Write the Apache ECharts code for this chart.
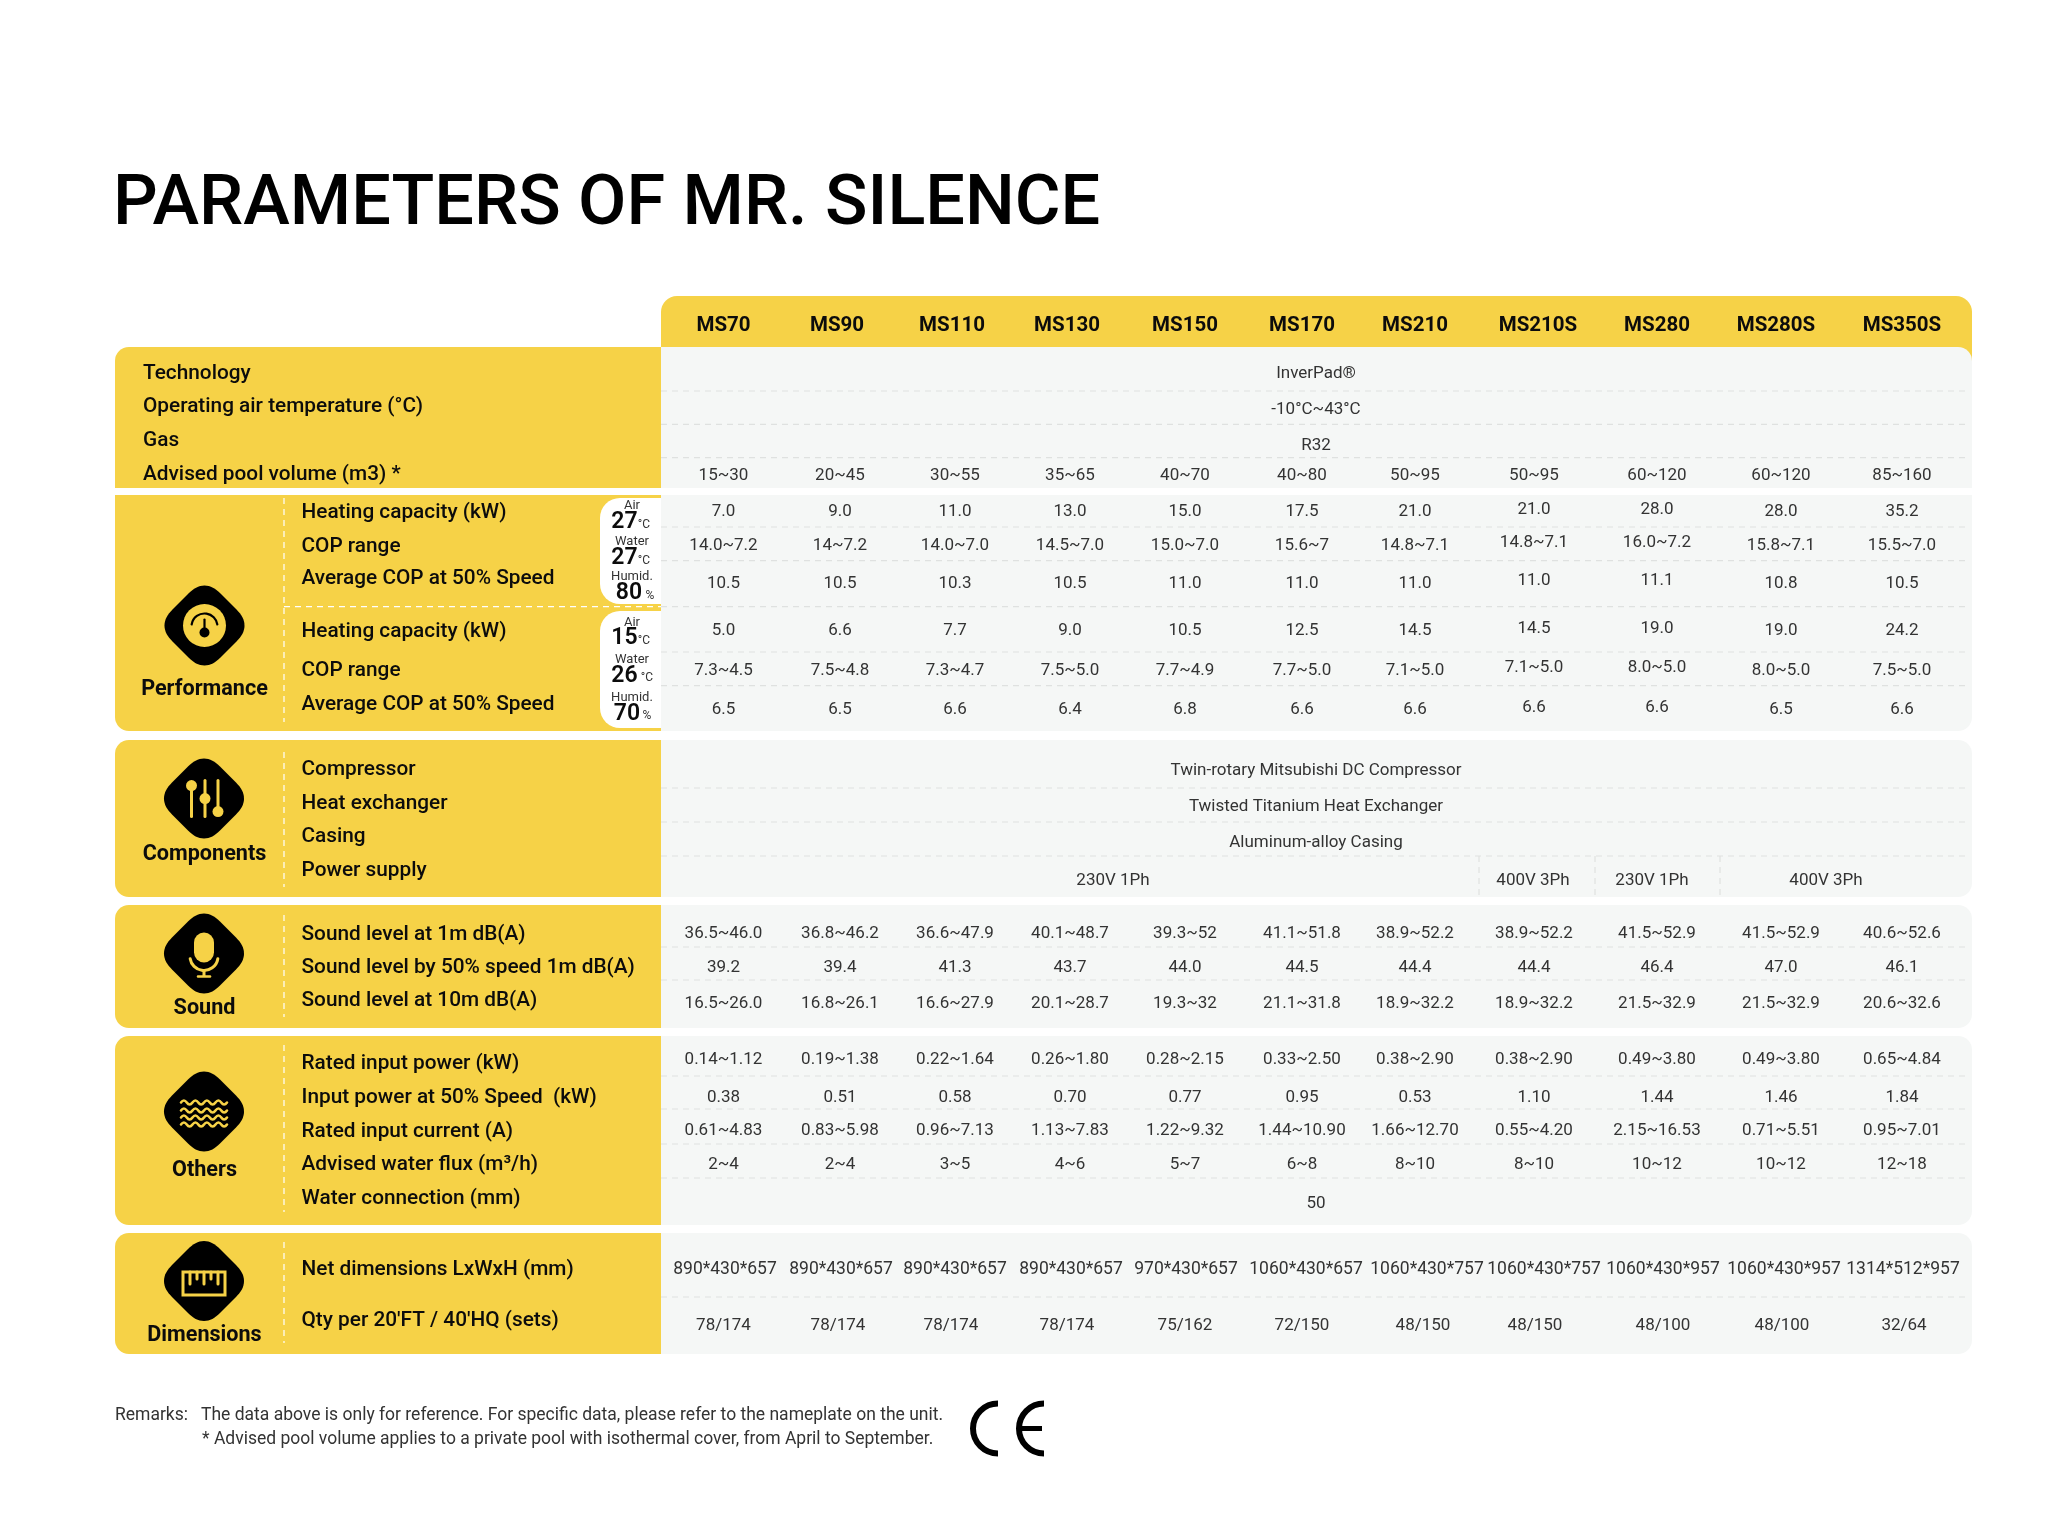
<!DOCTYPE html>
<html><head><meta charset="utf-8">
<style>html,body{margin:0;padding:0;background:#fff}#c{width:2048px;height:1524px}</style>
<script src="https://cdn.jsdelivr.net/npm/echarts@6/dist/echarts.min.js"></script>
</head><body><div id="c"></div>
<script>
// ---------- data ----------
const models = ['MS70','MS90','MS110','MS130','MS150','MS170','MS210','MS210S','MS280','MS280S','MS350S'];
const technology = 'InverPad®';
const airTemperature = '-10°C~43°C';
const gas = 'R32';
const poolVolume = ['15~30','20~45','30~55','35~65','40~70','40~80','50~95','50~95','60~120','60~120','85~160'];
const heatingHigh = ['7.0','9.0','11.0','13.0','15.0','17.5','21.0','21.0','28.0','28.0','35.2'];
const copHigh = ['14.0~7.2','14~7.2','14.0~7.0','14.5~7.0','15.0~7.0','15.6~7','14.8~7.1','14.8~7.1','16.0~7.2','15.8~7.1','15.5~7.0'];
const avgCopHigh = ['10.5','10.5','10.3','10.5','11.0','11.0','11.0','11.0','11.1','10.8','10.5'];
const heatingLow = ['5.0','6.6','7.7','9.0','10.5','12.5','14.5','14.5','19.0','19.0','24.2'];
const copLow = ['7.3~4.5','7.5~4.8','7.3~4.7','7.5~5.0','7.7~4.9','7.7~5.0','7.1~5.0','7.1~5.0','8.0~5.0','8.0~5.0','7.5~5.0'];
const avgCopLow = ['6.5','6.5','6.6','6.4','6.8','6.6','6.6','6.6','6.6','6.5','6.6'];
const compressor = 'Twin-rotary Mitsubishi DC Compressor';
const exchanger = 'Twisted Titanium Heat Exchanger';
const casing = 'Aluminum-alloy Casing';
const powerSupply = ['230V 1Ph','400V 3Ph','230V 1Ph','400V 3Ph'];
const sound1m = ['36.5~46.0','36.8~46.2','36.6~47.9','40.1~48.7','39.3~52','41.1~51.8','38.9~52.2','38.9~52.2','41.5~52.9','41.5~52.9','40.6~52.6'];
const sound50 = ['39.2','39.4','41.3','43.7','44.0','44.5','44.4','44.4','46.4','47.0','46.1'];
const sound10m = ['16.5~26.0','16.8~26.1','16.6~27.9','20.1~28.7','19.3~32','21.1~31.8','18.9~32.2','18.9~32.2','21.5~32.9','21.5~32.9','20.6~32.6'];
const ratedPower = ['0.14~1.12','0.19~1.38','0.22~1.64','0.26~1.80','0.28~2.15','0.33~2.50','0.38~2.90','0.38~2.90','0.49~3.80','0.49~3.80','0.65~4.84'];
const power50 = ['0.38','0.51','0.58','0.70','0.77','0.95','0.53','1.10','1.44','1.46','1.84'];
const ratedCurrent = ['0.61~4.83','0.83~5.98','0.96~7.13','1.13~7.83','1.22~9.32','1.44~10.90','1.66~12.70','0.55~4.20','2.15~16.53','0.71~5.51','0.95~7.01'];
const waterFlux = ['2~4','2~4','3~5','4~6','5~7','6~8','8~10','8~10','10~12','10~12','12~18'];
const waterConnection = '50';
const netDimensions = ['890*430*657','890*430*657','890*430*657','890*430*657','970*430*657','1060*430*657','1060*430*757','1060*430*757','1060*430*957','1060*430*957','1314*512*957'];
const containerQty = ['78/174','78/174','78/174','78/174','75/162','72/150','48/150','48/150','48/100','48/100','32/64'];
const title = 'PARAMETERS OF MR. SILENCE';
const remarks = ['Remarks:','The data above is only for reference. For specific data, please refer to the nameplate on the unit.','* Advised pool volume applies to a private pool with isothermal cover, from April to September.'];

// ---------- layout (table geometry only) ----------
const YEL='#F6D247', GREY='#F5F7F6', DASH='#DFE1E0', INK='#0c0c0c', CELL='#333333';
const FONT='Roboto, "Noto Sans", sans-serif';
const SPLIT=661, LEFT=115, RIGHT=1972, GUTTER=284, LABELX=301.5, SPANX=1316;
const CELL_SIZE=17, DIM_SIZE=17.5;
const textDy=y=>y>=1240?3.6:(y>=900?2.6:1.4);
const headerX=[723.5,837,952,1067,1185,1302,1415,1538,1657,1776,1902];
const cellX=[723.5,840,955,1070,1185,1302,1415,1534,1657,1781,1902];
const dimX=[725,841,955,1071,1186,1306,1427,1544,1663,1784,1903];
const qtyX=[723.5,838,951,1067,1185,1302,1423,1535,1663,1782,1904];
const sections=[ // vertical extents and corner radii [tl,tr,br,bl]
 [347,488,[14,14,0,0]],[495,731,[0,0,14,14]],[740,897,[14,14,14,14]],
 [905,1028,[14,14,14,14]],[1036,1225,[14,14,14,14]],[1233,1354,[14,14,14,14]]];
const dashY=[391,424.3,457.7,527,560.7,606.7,652,685.7,788,822,856,947,980,1076,1109,1144,1178,1297];
const gutters=[[498,722],[752,887],[915,1017],[1045,1212],[1242,1343]];
const conditionBoxes=[[498,604],[611,728]];
const powerDividers=[1479,1595,1720];
const powerX=[1113,1533,1652,1826], powerY=879;

// ---------- build marks ----------
const rects=[], lines=[], texts=[];
function T(x,y,text,size,o){texts.push(Object.assign({x,y:y+textDy(y),text,size,weight:400,color:CELL,align:'center'},o||{}));}
rects.push({x0:661,y0:296,x1:RIGHT,y1:370,c:YEL,r:[16,16,0,0]});
sections.forEach(s=>{
  rects.push({x0:SPLIT,y0:s[0],x1:RIGHT,y1:s[1],c:GREY,r:[0,s[2][1],s[2][2],0]});
  rects.push({x0:LEFT,y0:s[0],x1:SPLIT,y1:s[1],c:YEL,r:[s[2][0],0,0,s[2][3]]});
});
conditionBoxes.forEach(b=>rects.push({x0:600,y0:b[0],x1:SPLIT,y1:b[1],c:'#ffffff',r:[20,0,0,20]}));
dashY.forEach(y=>lines.push({x0:SPLIT,y0:y,x1:1969,y1:y,c:DASH}));
gutters.forEach(g=>lines.push({x0:GUTTER,y0:g[0],x1:GUTTER,y1:g[1],c:'#FFFFFF'}));
lines.push({x0:GUTTER,y0:606.7,x1:SPLIT,y1:606.7,c:'#FFFFFF'});
powerDividers.forEach(x=>lines.push({x0:x,y0:856,x1:x,y1:897,c:DASH}));
T(113,205.5,title,70.2,{align:'left',weight:500,color:'#000'});
models.forEach((m,i)=>T(headerX[i],324.5,m,20.5,{weight:700,color:INK}));
const L=(y,t,x)=>T(x||LABELX,y,t,20.8,{align:'left',color:INK,weight:500});
[[372,'Technology'],[405.7,'Operating air temperature (°C)'],[439,'Gas'],[473,'Advised pool volume (m3) *']].forEach(a=>L(a[0],a[1],143));
[[511.7,'Heating capacity (kW)'],[545,'COP range'],[577.7,'Average COP at 50% Speed'],[630,'Heating capacity (kW)'],[669,'COP range'],[703,'Average COP at 50% Speed'],
 [768.5,'Compressor'],[802,'Heat exchanger'],[835.7,'Casing'],[869,'Power supply'],
 [932,'Sound level at 1m dB(A)'],[965,'Sound level by 50% speed 1m dB(A)'],[998,'Sound level at 10m dB(A)'],
 [1061.7,'Rated input power (kW)'],[1095,'Input power at 50% Speed  (kW)'],[1129,'Rated input current (A)'],[1162,'Advised water flux (m³/h)'],[1196,'Water connection (mm)'],
 [1266.5,'Net dimensions LxWxH (mm)'],[1317,"Qty per 20'FT / 40'HQ (sets)"]].forEach(a=>L(a[0],a[1]));
[[688,'Performance'],[853,'Components'],[1005.5,'Sound'],[1168,'Others'],[1331.6,'Dimensions']].forEach(a=>T(204.5,a[0],a[1],21.6,{weight:700,color:INK}));
[[372,technology],[408,airTemperature],[444,gas],[769.3,compressor],[805,exchanger],[841,casing],[1201,waterConnection]].forEach(a=>T(SPANX,a[0],a[1],CELL_SIZE));
powerSupply.forEach((p,i)=>T(powerX[i],powerY,p,CELL_SIZE));
function row(y,vals,xs,shift,size){vals.forEach((v,i)=>T(xs[i],y-((shift&&(i===7||i===8))?shift:0),v,size||CELL_SIZE));}
row(474.7,poolVolume,cellX);
row(510.3,heatingHigh,cellX,2); row(544.3,copHigh,cellX,2.5); row(582.3,avgCopHigh,cellX,3);
row(629,heatingLow,cellX,2); row(669,copLow,cellX,2.5); row(708,avgCopLow,cellX,2);
row(931.4,sound1m,cellX); row(965,sound50,cellX); row(1001,sound10m,cellX);
row(1057.6,ratedPower,cellX); row(1095,power50,cellX); row(1128,ratedCurrent,cellX); row(1162,waterFlux,cellX);
row(1266.5,netDimensions,dimX,0,DIM_SIZE); row(1322,containerQty,qtyX);
function cond(a){a.forEach(v=>T(v[0],v[1],v[2],v[3],{weight:v[4]||400,color:v[4]?INK:'#333'}));}
cond([[632,504,'Air',13],[624.5,521,'27',23,600],[644,523.5,'°C',12],[632,540,'Water',13],[624.5,557,'27',23,600],[644,559.5,'°C',12],[632,575,'Humid.',13],[629,592,'80',23,600],[650,594.5,'%',12],
      [632,621,'Air',13],[624.5,637,'15',23,600],[644,639.5,'°C',12],[632,658,'Water',13],[624.5,675,'26',23,600],[647,676.5,'°C',12],[632,696,'Humid.',13],[627,713,'70',23,600],[647,714.5,'%',12]]);
T(115,1412,remarks[0],17.5,{align:'left'}); T(201,1412,remarks[1],17.5,{align:'left'}); T(202,1436,remarks[2],17.5,{align:'left'});

const icons=[[204.5,625.5,'gauge'],[204,798.6,'sliders'],[204,953.5,'mic'],[204,1111.5,'waves'],[204,1281,'ruler']];
const DIAMOND='M40 0C46 0 51 3 56 8L72 24C77 29 80 34 80 40C80 46 77 51 72 56L56 72C51 77 46 80 40 80C34 80 29 77 24 72L8 56C3 51 0 46 0 40C0 34 3 29 8 24L24 8C29 3 34 0 40 0Z';
const Y={fill:YEL}, SY=w=>({stroke:YEL,lineWidth:w,fill:'none',lineCap:'round'}), SK=w=>({stroke:'#000',lineWidth:w,fill:'none',lineCap:'round'});
const ln=(x1,y1,x2,y2,style)=>({type:'line',shape:{x1,y1,x2,y2},style});
const circ=(cx,cy,r,style)=>({type:'circle',shape:{cx,cy,r},style});
function wave(y){let d='M-23 '+y;for(let i=0;i<4;i++){const s=-23+i*11.5;d+=' Q'+(s+2.9)+' '+(y-4)+' '+(s+5.75)+' '+y+' Q'+(s+8.6)+' '+(y+4)+' '+(s+11.5)+' '+y;}return d;}
function glyph(kind){
  if(kind==='gauge') return [circ(0,0,21.5,Y),{type:'arc',shape:{cx:0,cy:1,r:13,startAngle:Math.PI*1.05,endAngle:Math.PI*1.95,clockwise:true},style:SK(2.2)},ln(0,-6,0,6,SK(2.2)),circ(0,7,5,{fill:'#000'})];
  if(kind==='sliders') return [ln(-12.5,-13,-12.5,18,SY(3)),circ(-12.5,-13,5.5,Y),ln(1,-18,1,18,SY(3)),circ(1,0,5.5,Y),ln(14,-18,14,13,SY(3)),circ(14,13,5.5,Y)];
  if(kind==='mic') return [{type:'rect',shape:{x:-10,y:-21,width:20,height:30,r:10},style:Y},{type:'arc',shape:{cx:0,cy:3,r:14,startAngle:Math.PI*0.05,endAngle:Math.PI*0.95,clockwise:true},style:SY(3)},ln(0,17,0,22,SY(3)),ln(-6,23,6,23,SY(2.5))];
  if(kind==='waves') return [-9,-1,6,13].map(y=>({type:'path',shape:{pathData:wave(y)},style:SY(2.6)}));
  if(kind==='ruler') return [{type:'rect',shape:{x:-21,y:-9,width:42,height:23},style:{stroke:YEL,lineWidth:3,fill:'none'}}].concat([[-14,12],[-7,7],[0,12],[7,7],[14,12]].map(a=>ln(a[0],-9,a[0],-9+a[1],SY(3))));
}

const chart=echarts.init(document.getElementById('c'),null,{renderer:'canvas'});
const clip=false;
chart.setOption({
 animation:false, backgroundColor:'#ffffff',
 grid:{left:0,right:0,top:0,bottom:0},
 xAxis:{type:'value',min:0,max:2048,show:false},
 yAxis:{type:'value',min:0,max:1524,inverse:true,show:false},
 series:[
  {type:'custom',z:1,clip,encode:{x:[0,2],y:[1,3]},data:rects.map(r=>[r.x0,r.y0,r.x1,r.y1]),
   renderItem:(p,api)=>{const r=rects[p.dataIndex],a=api.coord([api.value(0),api.value(1)]),b=api.coord([api.value(2),api.value(3)]);
     return {type:'rect',shape:{x:a[0],y:a[1],width:b[0]-a[0],height:b[1]-a[1],r:r.r},style:{fill:r.c}};}},
  {type:'custom',z:2,clip,encode:{x:[0,2],y:[1,3]},data:lines.map(r=>[r.x0,r.y0,r.x1,r.y1]),
   renderItem:(p,api)=>{const r=lines[p.dataIndex],a=api.coord([api.value(0),api.value(1)]),b=api.coord([api.value(2),api.value(3)]);
     return {type:'line',shape:{x1:a[0],y1:a[1],x2:b[0],y2:b[1]},style:{stroke:r.c,lineWidth:1.2,lineDash:[6,5]}};}},
  {type:'custom',z:3,clip,encode:{x:0,y:1},data:icons.map(i=>[i[0],i[1]]),
   renderItem:(p,api)=>{const c=api.coord([api.value(0),api.value(1)]),k=icons[p.dataIndex][2];
     return {type:'group',x:c[0],y:c[1],children:[{type:'path',shape:{pathData:DIAMOND,x:-40,y:-40,width:80,height:80,layout:'cover'},style:{fill:'#000'}}].concat(glyph(k))};}},
  {type:'custom',z:3,clip,encode:{x:0,y:1},data:[[998,1428.5],[1044,1428.5]],
   renderItem:(p,api)=>{const c=api.coord([api.value(0),api.value(1)]);
     const ch=[{type:'arc',shape:{cx:c[0],cy:c[1],r:25,startAngle:Math.PI*0.5,endAngle:Math.PI*1.5,clockwise:true},style:{stroke:'#000',lineWidth:6,fill:'none'}}];
     if(p.dataIndex===1) ch.push({type:'line',shape:{x1:c[0]-24,y1:c[1],x2:c[0]-2,y2:c[1]},style:{stroke:'#000',lineWidth:5}});
     return {type:'group',children:ch};}},
  {type:'custom',z:4,clip,encode:{x:0,y:1},data:texts.map(t=>[t.x,t.y]),
   renderItem:(p,api)=>{const t=texts[p.dataIndex],c=api.coord([api.value(0),api.value(1)]);
     return {type:'text',style:{x:c[0],y:c[1],text:t.text,fill:t.color,align:t.align,verticalAlign:'middle',fontSize:t.size,fontWeight:t.weight,fontFamily:FONT}};}}
 ]
});
</script></body></html>
